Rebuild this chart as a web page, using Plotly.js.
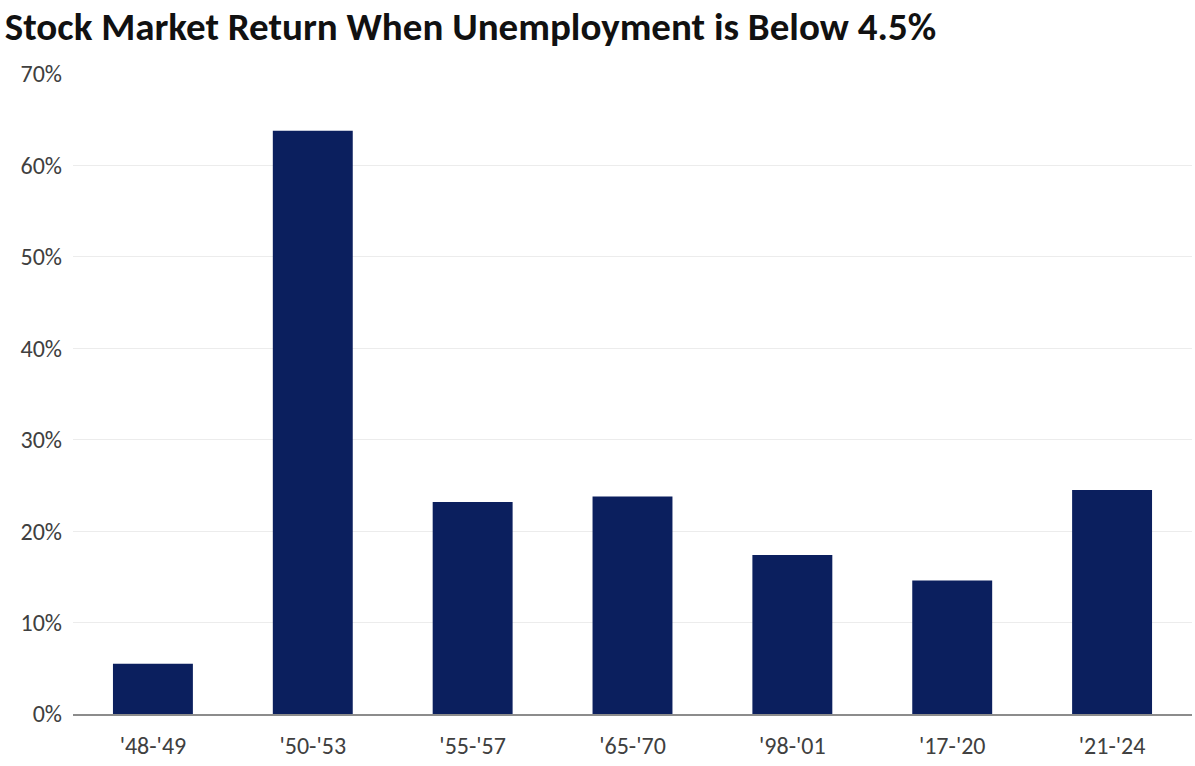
<!DOCTYPE html>
<html><head><meta charset="utf-8">
<script src="https://cdn.plot.ly/plotly-3.0.1.min.js"></script>
<style>html,body{margin:0;padding:0;background:#fff}#chart{width:1195px;height:766px}</style>
</head><body><div id="chart"></div>
<script>
var categories = ["'48-'49","'50-'53","'55-'57","'65-'70","'98-'01","'17-'20","'21-'24"];
var returns = [5.5, 63.8, 23.2, 23.8, 17.4, 14.6, 24.5];
var yTicks = [0,10,20,30,40,50,60,70];
var yTickLabels = yTicks.map(function(v){return v + '%';});

var font = "Calibri, Carlito, 'Open Sans', 'Noto Sans', sans-serif";
Plotly.newPlot('chart', [{
  type: 'bar', x: categories, y: returns,
  marker: {color: '#0b1f5e'}, width: 0.5, hoverinfo: 'skip'
}], {
  width: 1195, height: 766,
  margin: {l: 73, r: 3, t: 74, b: 52},
  paper_bgcolor: '#fff', plot_bgcolor: '#fff',
  font: {family: font, color: '#404040', size: 24},
  title: {text: 'Stock Market Return When Unemployment is Below 4.5%',
    x: 0.004, xanchor: 'left', xref: 'container', y: 0.966, yanchor: 'middle', yref: 'container',
    font: {family: font, size: 39, color: '#111', weight: 'bold'}},
  xaxis: {type: 'category', showgrid: false, showline: true, linecolor: '#8c8c8c', linewidth: 1.5,
    ticks: '', tickfont: {size: 24, color: '#404040'}, ticklen: 0, ticklabelstandoff: 10},
  yaxis: {range: [0, 70], tickvals: yTicks, ticktext: yTickLabels, showgrid: true, gridcolor: '#ececec',
    gridwidth: 1.2, zeroline: false, showline: false, ticks: '', tickfont: {size: 24, color: '#404040'}, ticklabelstandoff: 10},
  bargap: 0.5, showlegend: false
}, {displayModeBar: false, staticPlot: true});
</script></body></html>
